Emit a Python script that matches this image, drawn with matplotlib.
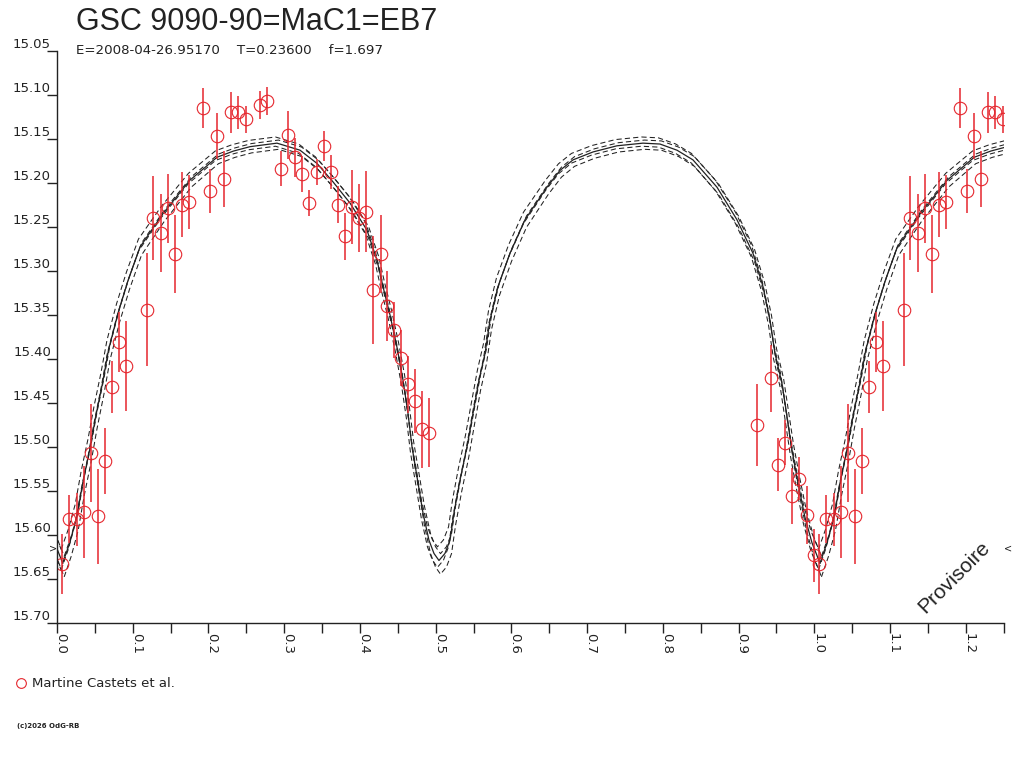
import numpy as np
import matplotlib
matplotlib.use("Agg")
import matplotlib.pyplot as plt
from matplotlib.lines import Line2D
from matplotlib import transforms

# --- OBSERVATIONS (phase, magnitude, error) ---
obs_phase = [0.0066, 0.0158, 0.0264, 0.0357, 0.0449, 0.0541, 0.0634, 0.0726, 0.0819, 0.0911,
             0.1188, 0.1268, 0.1373, 0.1466, 0.1558, 0.1651, 0.1743, 0.1928, 0.2020, 0.2113,
             0.2205, 0.2298, 0.2390, 0.2496, 0.2681, 0.2773, 0.2958, 0.3050, 0.3143, 0.3235,
             0.3328, 0.3433, 0.3526, 0.3618, 0.3711, 0.3803, 0.3896, 0.3988, 0.4080, 0.4173,
             0.4278, 0.4358, 0.4450, 0.4542, 0.4635, 0.4727, 0.4820, 0.4912,
             0.9243, 0.9428, 0.9521, 0.9613, 0.9706, 0.9798, 0.9904, 0.9996]
obs_mag = [15.633, 15.582, 15.582, 15.574, 15.507, 15.579, 15.516, 15.432, 15.381, 15.408,
           15.344, 15.240, 15.257, 15.229, 15.281, 15.225, 15.222, 15.115, 15.209, 15.147,
           15.196, 15.120, 15.120, 15.128, 15.112, 15.107, 15.184, 15.146, 15.171, 15.190,
           15.223, 15.188, 15.158, 15.188, 15.225, 15.261, 15.228, 15.240, 15.233, 15.322,
           15.281, 15.340, 15.367, 15.399, 15.429, 15.448, 15.480, 15.484,
           15.475, 15.422, 15.520, 15.495, 15.556, 15.536, 15.577, 15.623]
obs_err = [0.034, 0.027, 0.030, 0.052, 0.056, 0.054, 0.037, 0.030, 0.034, 0.051,
           0.064, 0.048, 0.044, 0.039, 0.044, 0.037, 0.031, 0.023, 0.025, 0.026,
           0.032, 0.023, 0.019, 0.015, 0.016, 0.016, 0.020, 0.027, 0.022, 0.020,
           0.015, 0.015, 0.017, 0.019, 0.021, 0.027, 0.042, 0.039, 0.046, 0.061,
           0.044, 0.040, 0.032, 0.032, 0.032, 0.036, 0.044, 0.039,
           0.047, 0.038, 0.030, 0.025, 0.032, 0.024, 0.033, 0.030]

# --- MODEL LIGHT CURVE ---
model_phase = [0.0075, 0.0168, 0.0260, 0.0340, 0.0430, 0.0510, 0.0600, 0.0680, 0.0806, 0.0938,
               0.1096, 0.1400, 0.1756, 0.2113, 0.2330, 0.2549, 0.2905, 0.3209, 0.3433, 0.3645,
               0.3869, 0.4094, 0.4226, 0.4305, 0.4397, 0.4490, 0.4569, 0.4635, 0.4688, 0.4754,
               0.4833, 0.4912, 0.4978, 0.5044, 0.5123, 0.5190, 0.5242, 0.5321, 0.5414, 0.5493,
               0.5573, 0.5652, 0.5718, 0.5823, 0.5982, 0.6180, 0.6470, 0.6642, 0.6814, 0.7078,
               0.7395, 0.7738, 0.7962, 0.8187, 0.8398, 0.8715, 0.8979, 0.9190, 0.9323, 0.9415,
               0.9481, 0.9574, 0.9640, 0.9706, 0.9785, 0.9877, 0.9970]
model_mag = [15.632, 15.609, 15.580, 15.541, 15.504, 15.466, 15.428, 15.390, 15.348, 15.311,
             15.273, 15.235, 15.197, 15.171, 15.164, 15.159, 15.155, 15.163, 15.178, 15.199,
             15.223, 15.254, 15.288, 15.318, 15.350, 15.387, 15.424, 15.462, 15.500, 15.534,
             15.575, 15.606, 15.621, 15.629, 15.621, 15.606, 15.575, 15.538, 15.500, 15.462,
             15.424, 15.394, 15.356, 15.318, 15.280, 15.242, 15.205, 15.186, 15.174, 15.165,
             15.158, 15.155, 15.156, 15.163, 15.174, 15.205, 15.242, 15.280, 15.318, 15.356,
             15.394, 15.428, 15.466, 15.504, 15.541, 15.580, 15.609]
# envelope curves: (mag offset, amplitude change, phase shift)
envelope = [(-0.007, -0.018, -0.002), (-0.0035, -0.009, 0.002),
            (0.0035, 0.009, -0.002), (0.007, 0.018, 0.002)]
mag_max = 15.155

x_major = [0.0, 0.1, 0.2, 0.3, 0.4, 0.5, 0.6, 0.7, 0.8, 0.9, 1.0, 1.1, 1.2]
y_ticks = [15.05, 15.10, 15.15, 15.20, 15.25, 15.30, 15.35, 15.40, 15.45, 15.50,
           15.55, 15.60, 15.65, 15.70]

title = "GSC 9090-90=MaC1=EB7"
subtitle = "E=2008-04-26.95170    T=0.23600    f=1.697"
observer = "Martine Castets et al."

RED = "#e5262d"
INK = "#222222"

fig = plt.figure(figsize=(10.24, 7.68), dpi=100)
ax = fig.add_axes([57 / 1024, 145 / 768, 946.6 / 1024, 572.3 / 768])

ph = np.array(model_phase)
mg = np.array(model_mag)
ph = np.append(ph, ph[0] + 1)
mg = np.append(mg, mg[0])

for a, b, dp in envelope:
    m2 = mg + a + b * (mg - mag_max)
    for k in (-1, 0, 1):
        ax.plot(ph + k + dp, m2, color=INK, lw=0.75, ls=(0, (5, 3)))
for k in (-1, 0, 1):
    ax.plot(ph + k, mg, color=INK, lw=0.9)

op = np.array(obs_phase)
om = np.array(obs_mag)
oe = np.array(obs_err)
rep = op < 0.26
for xs, ys, es in [(op, om, oe), (op[rep] + 1, om[rep], oe[rep])]:
    ax.errorbar(xs, ys, yerr=es, fmt="o", ms=9, mfc="none", mec=RED, mew=0.8,
                ecolor=RED, elinewidth=1.1, capsize=0)

ax.set_xlim(0, 1.25)
ax.set_ylim(15.70, 15.05)
for s in ["top", "right"]:
    ax.spines[s].set_visible(False)
for s in ["left", "bottom"]:
    ax.spines[s].set_color(INK)
    ax.spines[s].set_linewidth(1.0)

x_minor = [round(v * 0.05, 2) for v in range(26)]
ax.set_xticks(x_minor)
ax.set_xticklabels([])
ax.set_yticks(y_ticks)
ax.set_yticklabels([])
ax.tick_params(length=7.2, width=1.0, color=INK, direction="out")

ytr = ax.get_yaxis_transform() + transforms.ScaledTranslation(-6 / 100, 3 / 100, fig.dpi_scale_trans)
for v in y_ticks:
    ax.text(0, v, f"{v:.2f}", transform=ytr, ha="right", va="baseline",
            fontsize=9.5, color=INK, clip_on=False)
xtr = ax.get_xaxis_transform() + transforms.ScaledTranslation(-3 / 100, -10 / 100, fig.dpi_scale_trans)
for v in x_major:
    ax.text(v, 0, f"{v:.1f}", transform=xtr, ha="left", va="top", rotation=-90,
            fontsize=9.5, color=INK, clip_on=False)

# level markers
ax.text(0, 15.615, ">", transform=ax.get_yaxis_transform(), ha="right", va="center",
        fontsize=7, color=INK, clip_on=False)
ax.text(1, 15.615, "<", transform=ax.get_yaxis_transform(), ha="left", va="center",
        fontsize=7, color=INK, clip_on=False)

fig.text(76 / 1024, 1 - 30 / 768, title, fontsize=22, family="Liberation Sans",
         color=INK, va="baseline")
fig.text(76 / 1024, 1 - 54 / 768, subtitle, fontsize=9.6, color=INK, va="baseline")

fig.add_artist(Line2D([21 / 1024], [1 - 683 / 768], marker="o", ms=7, mfc="none",
                      mec=RED, mew=0.8, transform=fig.transFigure))
fig.text(32 / 1024, 1 - 687 / 768, observer, fontsize=9.5, color=INK, va="baseline")
fig.text(17 / 1024, 1 - 728 / 768, "(c)2026 OdG-RB", fontsize=5, fontweight="bold",
         color=INK, va="baseline")

fig.text(954 / 1024, 1 - 577 / 768, "Provisoire", fontsize=15, family="Liberation Sans",
         rotation=45, ha="center", va="center", color=INK)

fig.savefig("out.png", dpi=100)
